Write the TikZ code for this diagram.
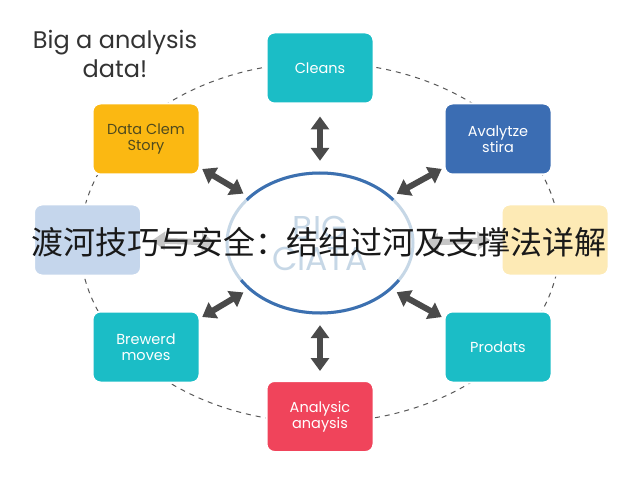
\documentclass[tikz,border=0pt]{standalone}
\usepackage{fontspec}
\setmainfont{Poppins}
\newfontfamily\cjkfont{Noto Sans CJK SC}
\usetikzlibrary{arrows.meta,shapes.geometric,calc}

\definecolor{tealbox}{HTML}{1BBDC6}
\definecolor{amberbox}{HTML}{FBB812}
\definecolor{bluebox}{HTML}{3B6DB3}
\definecolor{redbox}{HTML}{F0445B}
\definecolor{paleblue}{HTML}{C5D6EC}
\definecolor{paleyellow}{HTML}{FDEAB5}
\definecolor{ringdark}{HTML}{3C70B0}
\definecolor{ringpale}{HTML}{C6D7E6}
\definecolor{arrowgray}{HTML}{4A4A4A}
\definecolor{olivetext}{HTML}{4F4A1E}

\tikzset{
  box/.style={rounded corners=8pt, minimum width=107pt, minimum height=71pt,
    draw=white, line width=2pt, align=center, text=white,
    font=\fontsize{14.5}{16}\selectfont},
  link/.style={{Triangle[width=18pt,length=13pt]}-{Triangle[width=18pt,length=13pt]},
    line width=6pt, arrowgray},
  fadedlink/.style={link, gray!45},
}

\begin{document}
\begin{tikzpicture}[x=1pt, y=1pt]
  \useasboundingbox[fill=white] (0,0) rectangle (640,480);

  % title
  \node[align=center, text=black!80, font=\fontsize{24}{29}\selectfont] (title) at (115,426)
    {Big a analysis\\data!};

  % dashed orbit
  \draw[black!65, line width=1pt, dash pattern=on 5pt off 5pt] (320,237.5) ellipse [x radius=240, y radius=180];

  % boxes on the orbit
  \node[box, fill=tealbox] (cleans) at (320,412) {Cleans};
  \node[box, fill=amberbox, text=olivetext] (story) at (146,341) {Data Clem\\Story};
  \node[box, fill=bluebox] (analyse) at (498,341) {Avalytze\\stira};
  \node[box, fill=paleblue] (leftbox) at (87.5,240) {};
  \node[box, fill=paleyellow] (rightbox) at (555,240) {};
  \node[box, fill=tealbox] (brewerd) at (146,133) {Brewerd\\moves};
  \node[box, fill=tealbox] (prodats) at (498,133) {Prodats};
  \node[box, fill=redbox] (analysic) at (320,63.5) {Analysic\\anaysis};

  % centre ring
  \node[ellipse, minimum width=186pt, minimum height=140pt, inner sep=0pt] (bigdata) at (320,237) {};
  \node[align=center, text=ringpale, font=\fontsize{33}{31}\selectfont] (bigtext) at (bigdata.center) {BIG\\CIATA};
  \draw[ringpale, line width=3pt] (bigdata.center) ellipse [x radius=93, y radius=70];
  \draw[ringdark, line width=3pt] (bigdata.center) ++(38:93 and 70) arc[start angle=38, end angle=142, x radius=93, y radius=70];
  \draw[ringdark, line width=3pt] (bigdata.center) ++(212:93 and 70) arc[start angle=212, end angle=328, x radius=93, y radius=70];

  % arrows
  \draw[fadedlink, shorten <=10pt, shorten >=12pt] (leftbox.east) -- (bigdata.west);
  \draw[fadedlink, shorten <=12pt, shorten >=10pt] (bigdata.east) -- (rightbox.west);
  \draw[link, shorten <=12pt, shorten >=12pt] (cleans.south) -- (bigdata.north);
  \draw[link, shorten <=12pt, shorten >=9pt] (bigdata.south) -- (analysic.north);
  \draw[link, shorten <=2pt, shorten >=7pt] (story.-28) -- (bigdata.147);
  \draw[link, shorten <=2pt, shorten >=7pt] (analyse.-152) -- (bigdata.33);
  \draw[link, shorten <=2pt, shorten >=7pt] (brewerd.28) -- (bigdata.213);
  \draw[link, shorten <=2pt, shorten >=7pt] (prodats.152) -- (bigdata.-33);

  % overlaid caption
  \node[text=black!90, font=\cjkfont\fontsize{32}{32}\selectfont, inner sep=0pt] (caption) at (319,238)
    {渡河技巧与安全：结组过河及支撑法详解};
\end{tikzpicture}
\end{document}
